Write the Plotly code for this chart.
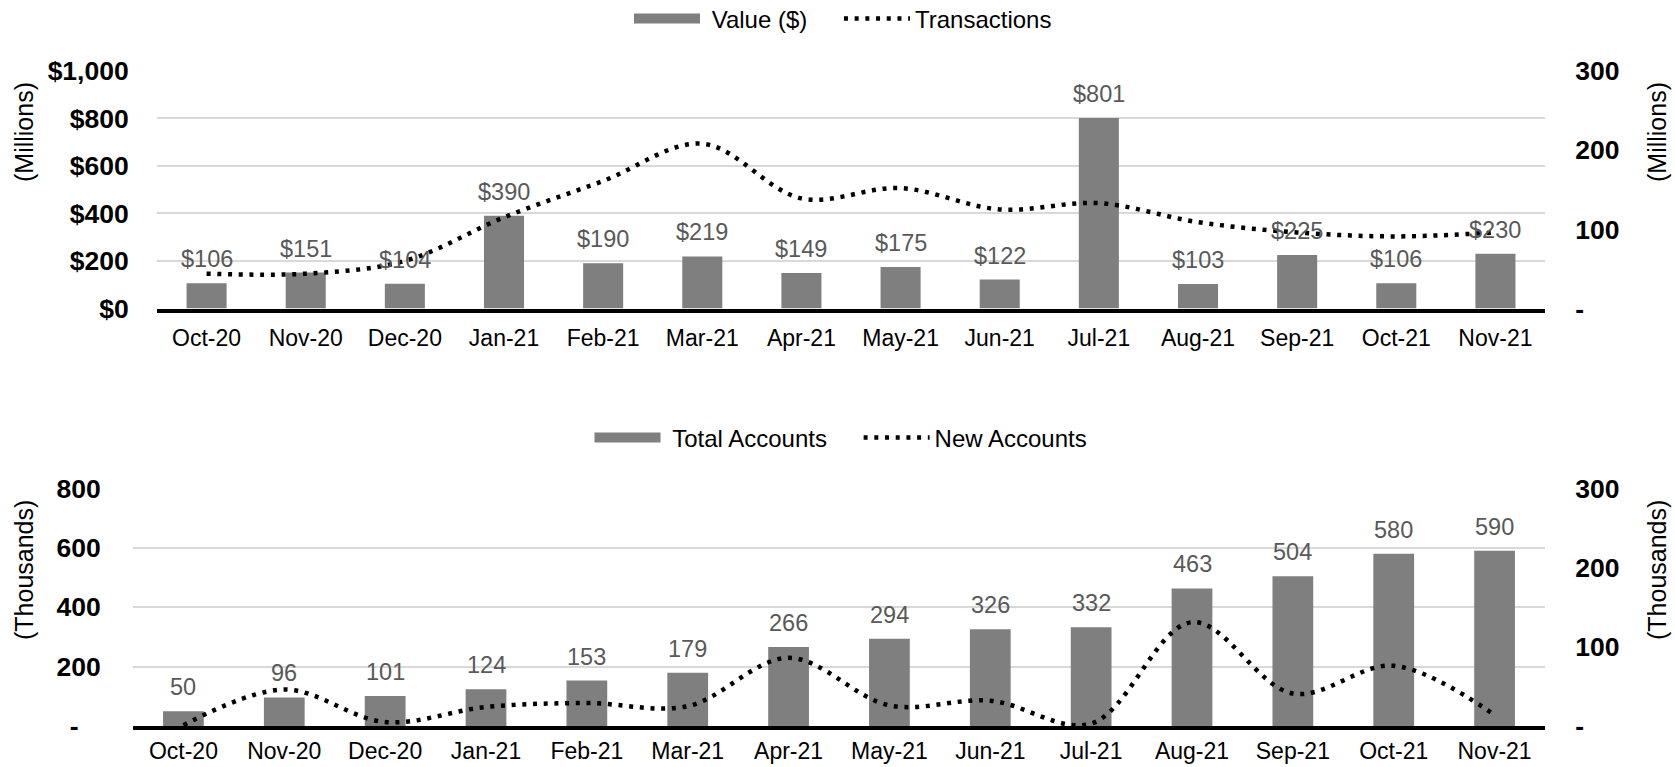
import plotly.graph_objects as go

months = ["Oct-20", "Nov-20", "Dec-20", "Jan-21", "Feb-21", "Mar-21", "Apr-21",
          "May-21", "Jun-21", "Jul-21", "Aug-21", "Sep-21", "Oct-21", "Nov-21"]
value_musd = [106, 151, 104, 390, 190, 219, 149, 175, 122, 801, 103, 225, 106, 230]
transactions_m = [44, 44, 60, 115, 161, 208, 139, 152, 125, 133, 109, 96, 91, 96]
total_accounts_k = [50, 96, 101, 124, 153, 179, 266, 294, 326, 332, 463, 504, 580, 590]
new_accounts_k = [1, 46, 5, 24, 29, 25, 86, 26, 32, 3, 131, 41, 76, 14]

FONT = "Liberation Sans, Arial, sans-serif"
W, H = 1675, 767
BAR = "#7f7f7f"
GRID = "#d9d9d9"
NB = "\u00a0"
DOT = dict(color="black", width=4.5, dash="4px,6.7px")

def px_x(p):
    return p / W

def px_y(p):
    return 1 - p / H

fig = go.Figure()

# ---- top chart ----
fig.add_trace(go.Bar(x=months, y=value_musd, marker=dict(color=BAR, line=dict(width=0)),
                     xaxis="x", yaxis="y", showlegend=False, name="Value ($)"))
fig.add_trace(go.Scatter(x=months, y=transactions_m, mode="lines", xaxis="x", yaxis="y2",
                         line=dict(shape="spline", smoothing=1.0, **DOT),
                         showlegend=False, name="Transactions"))
# legend entries
fig.add_trace(go.Scatter(x=[None], y=[None], mode="lines", name=NB + "Value ($)" + NB * 4,
                         xaxis="x", yaxis="y", line=dict(color=BAR, width=10), legend="legend"))
fig.add_trace(go.Scatter(x=[None], y=[None], mode="lines", name="Transactions",
                         xaxis="x", yaxis="y2", line=DOT, legend="legend"))

# ---- bottom chart ----
fig.add_trace(go.Bar(x=months, y=total_accounts_k, marker=dict(color=BAR, line=dict(width=0)),
                     xaxis="x2", yaxis="y3", showlegend=False, name="Total Accounts"))
fig.add_trace(go.Scatter(x=months, y=new_accounts_k, mode="lines", xaxis="x2", yaxis="y4",
                         line=dict(shape="spline", smoothing=1.0, **DOT),
                         showlegend=False, name="New Accounts"))
fig.add_trace(go.Scatter(x=[None], y=[None], mode="lines", name=NB + "Total Accounts" + NB * 4,
                         xaxis="x2", yaxis="y3", line=dict(color=BAR, width=10), legend="legend2"))
fig.add_trace(go.Scatter(x=[None], y=[None], mode="lines", name="New Accounts",
                         xaxis="x2", yaxis="y4", line=DOT, legend="legend2"))

# data labels
annotations = []
for m, v in zip(months, value_musd):
    annotations.append(dict(x=m, y=v, xref="x", yref="y", text=f"${v:,}", showarrow=False,
                            yanchor="middle", yshift=24,
                            font=dict(family=FONT, size=23.5, color="#595959")))
for m, v in zip(months, total_accounts_k):
    annotations.append(dict(x=m, y=v, xref="x2", yref="y3", text=f"{v:,}", showarrow=False,
                            yanchor="middle", yshift=24,
                            font=dict(family=FONT, size=23.5, color="#595959")))

# axis titles
for x, y, t in [(px_x(24), px_y(132), "(Millions)"), (px_x(1657), px_y(132), "(Millions)"),
                (px_x(24), px_y(570), "(Thousands)"), (px_x(1657), px_y(570), "(Thousands)")]:
    annotations.append(dict(x=x, y=y, xref="paper", yref="paper", text=t, showarrow=False,
                            textangle=-90, xanchor="center", yanchor="middle",
                            font=dict(family=FONT, size=25, color="black")))

tickfont_bold = dict(family=FONT, size=26.5, color="black", weight="bold")
xtickfont = dict(family=FONT, size=23, color="black")

common_x = dict(type="category", categoryorder="array", categoryarray=months,
                showline=True, linecolor="black", linewidth=4, showgrid=False,
                ticks="outside", tickcolor="rgba(0,0,0,0)", tickfont=xtickfont,
                zeroline=False, fixedrange=True)

fig.update_layout(
    width=W, height=H,
    margin=dict(l=0, r=0, t=0, b=0, autoexpand=False),
    paper_bgcolor="white", plot_bgcolor="white",
    bargap=0.596,
    font=dict(family=FONT),
    xaxis=dict(domain=[px_x(157), px_x(1545)], anchor="y", ticklen=6, **common_x),
    yaxis=dict(domain=[px_y(308.5), px_y(70.8)], range=[0, 1000],
               tickvals=[0, 200, 400, 600, 800, 1000],
               ticktext=["$0", "$200", "$400", "$600", "$800", "$1,000"],
               tickfont=tickfont_bold, showgrid=True, gridcolor=GRID, gridwidth=2,
               zeroline=False, showline=False, ticks="outside", ticklen=22,
               tickcolor="rgba(0,0,0,0)", anchor="x"),
    yaxis2=dict(overlaying="y", side="right", anchor="x", range=[0, 300],
                tickvals=[0, 100, 200, 300], ticktext=["-", "100", "200", "300"],
                tickfont=tickfont_bold, showgrid=False, zeroline=False, showline=False,
                ticks="outside", ticklen=24, tickcolor="rgba(0,0,0,0)"),
    xaxis2=dict(domain=[px_x(133), px_x(1545)], anchor="y3", ticklen=1, **common_x),
    yaxis3=dict(domain=[px_y(726), px_y(488.3)], range=[0, 800],
                tickvals=[0, 200, 400, 600, 800],
                ticktext=["-" + NB * 3, "200", "400", "600", "800"],
                tickfont=tickfont_bold, showgrid=True, gridcolor=GRID, gridwidth=2,
                zeroline=False, showline=False, ticks="outside", ticklen=26,
                tickcolor="rgba(0,0,0,0)", anchor="x2"),
    yaxis4=dict(overlaying="y3", side="right", anchor="x2", range=[0, 300],
                tickvals=[0, 100, 200, 300], ticktext=["-", "100", "200", "300"],
                tickfont=tickfont_bold, showgrid=False, zeroline=False, showline=False,
                ticks="outside", ticklen=24, tickcolor="rgba(0,0,0,0)"),
    legend=dict(orientation="h", x=px_x(843), y=px_y(19), xanchor="center", yanchor="middle",
                font=dict(family=FONT, size=24, color="black"), itemwidth=66,
                bgcolor="rgba(0,0,0,0)", tracegroupgap=0),
    legend2=dict(orientation="h", x=px_x(841), y=px_y(438), xanchor="center", yanchor="middle",
                 font=dict(family=FONT, size=24, color="black"), itemwidth=66,
                 bgcolor="rgba(0,0,0,0)", tracegroupgap=0),
    annotations=annotations,
)

fig.write_html("out.html", config={"displayModeBar": False},
               post_script="document.body.style.margin='0px';")
